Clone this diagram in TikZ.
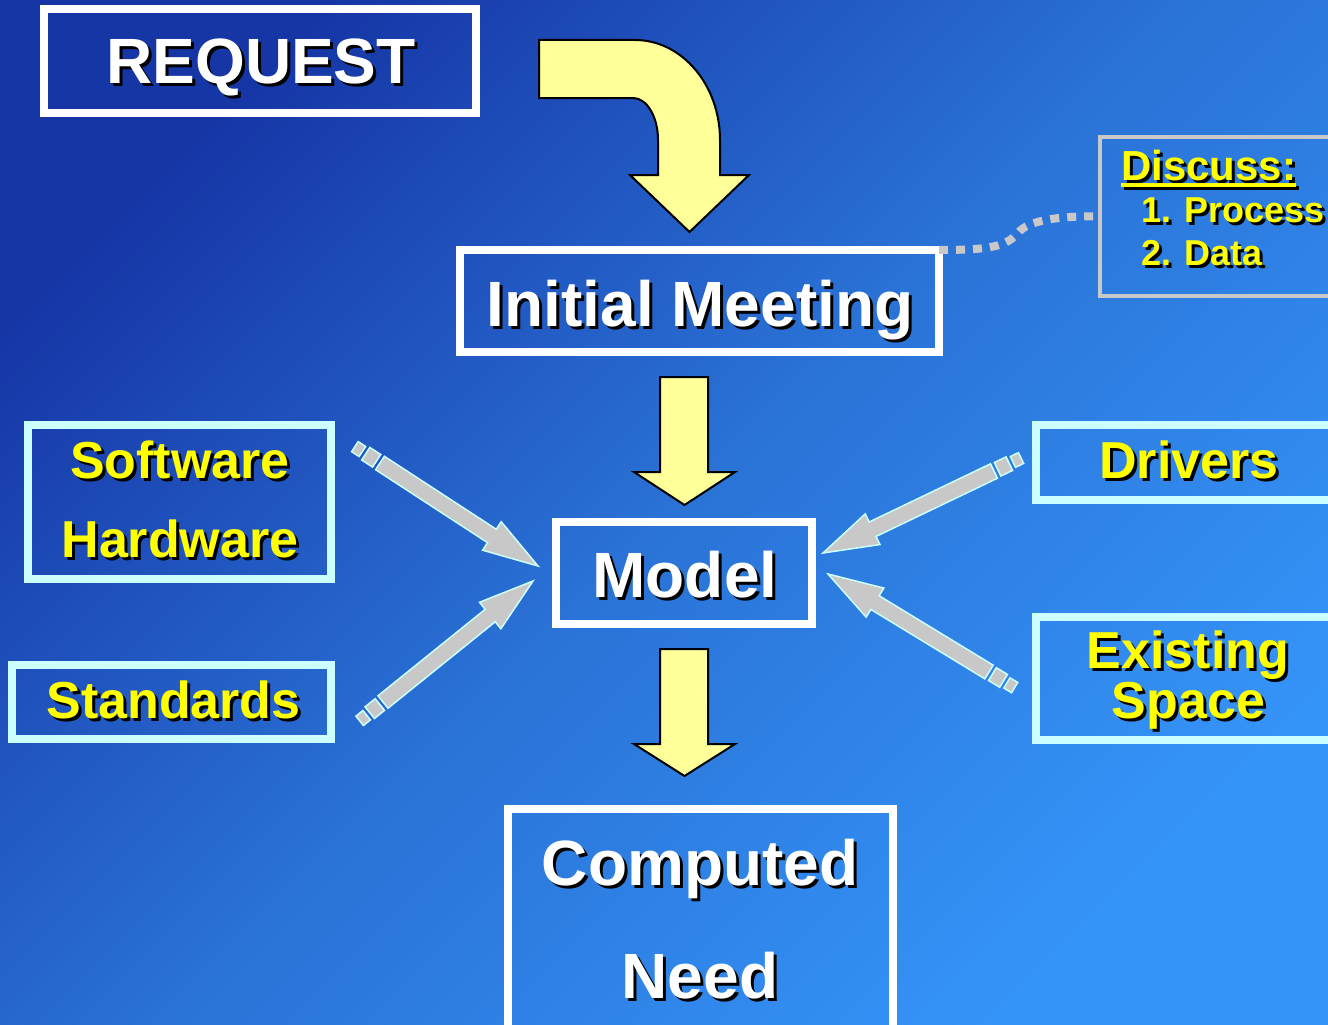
\documentclass[tikz,border=0pt]{standalone}
\usepackage{fontspec}
\setmainfont{Liberation Sans}
\usetikzlibrary{calc}
\definecolor{bgdark}{HTML}{1636A6}
\definecolor{bgmid}{HTML}{2A72D6}
\definecolor{bglight}{HTML}{3594F8}
\definecolor{arrowyellow}{HTML}{FFFF99}
\definecolor{txtyellow}{HTML}{FFFF00}
\definecolor{boxcyan}{HTML}{CCFFFF}
\definecolor{arrowgray}{HTML}{C8C8C8}
\definecolor{discgray}{HTML}{C8C8C8}
\newcommand\shtxt[2]{\leavevmode\rlap{\kern3pt\raisebox{-3pt}{\color{black}#2}}{\color{#1}#2}}
\newcommand\ulbar[1]{\vtop{\hbox{#1}\kern3pt\hrule height 4pt}}
\newcommand\grayarrow[2]{%
  \coordinate (ga-b) at ($(#2)!55pt!(#1)$);
  \coordinate (ga-p1) at ($(#1)!-4pt!(#2)$);
  \coordinate (ga-p2) at ($(#1)!-17pt!(#2)$);
  \coordinate (ga-p3) at ($(#1)!-21pt!(#2)$);
  \coordinate (ga-p4) at ($(#1)!-30pt!(#2)$);
  \filldraw[grayarr] ($(#1)!8pt!90:(#2)$) -- ($(ga-b)!8pt!90:(#2)$) -- ($(ga-b)!17pt!90:(#2)$)
    -- (#2) -- ($(ga-b)!17pt!-90:(#2)$) -- ($(ga-b)!8pt!-90:(#2)$) -- ($(#1)!8pt!-90:(#2)$) -- cycle;
  \filldraw[grayarr] ($(ga-p1)!7.5pt!90:(#2)$) -- ($(ga-p2)!7.5pt!90:(#2)$) -- ($(ga-p2)!7.5pt!-90:(#2)$) -- ($(ga-p1)!7.5pt!-90:(#2)$) -- cycle;
  \filldraw[grayarr] ($(ga-p3)!6pt!90:(#2)$) -- ($(ga-p4)!6pt!90:(#2)$) -- ($(ga-p4)!6pt!-90:(#2)$) -- ($(ga-p3)!6pt!-90:(#2)$) -- cycle;
}
\begin{document}
\begin{tikzpicture}[x=1pt,y=-1pt,
  wbox/.style={draw=white,line width=8pt,inner sep=0pt,outer sep=0pt},
  cbox/.style={draw=boxcyan,line width=8pt,inner sep=0pt,outer sep=0pt},
  gbox/.style={draw=discgray,line width=4pt,inner sep=0pt,outer sep=0pt},
  wtxt/.style={inner sep=0pt,anchor=base,font=\fontsize{64}{64}\selectfont\bfseries},
  ytxt/.style={inner sep=0pt,anchor=base,font=\fontsize{52}{52}\selectfont\bfseries},
  dtxt/.style={inner sep=0pt,anchor=base west,font=\fontsize{42}{42}\selectfont\bfseries},
  itxt/.style={inner sep=0pt,anchor=base west,font=\fontsize{36}{36}\selectfont\bfseries},
  yarrow/.style={fill=arrowyellow,draw=black,line width=2pt,line join=miter},
  grayarr/.style={fill=arrowgray,draw=boxcyan,line width=1.5pt,line join=miter},
  dotconn/.style={draw=discgray,line width=8pt,dash pattern=on 9pt off 8pt}]
\useasboundingbox (0,0) rectangle (1328,1025);
\clip (0,0) rectangle (1328,1025);
\shade[top color=bgdark,bottom color=bglight,middle color=bgmid,shading angle=45] (-10,-10) rectangle (1338,1035);

% boxes
\node[wbox,minimum width=432pt,minimum height=104pt] (req) at (260,61) {};
\node[wbox,minimum width=479pt,minimum height=102pt] (im) at (699.5,301) {};
\node[wbox,minimum width=256pt,minimum height=102pt] (model) at (684,573) {};
\node[wbox,minimum width=385pt,minimum height=251pt] (cn) at (700.5,934.5) {};
\node[cbox,minimum width=303pt,minimum height=154pt] (sh) at (179.5,502) {};
\node[cbox,minimum width=319pt,minimum height=74pt] (std) at (171.5,702) {};
\node[cbox,minimum width=324pt,minimum height=75pt] (drv) at (1198,462.5) {};
\node[cbox,minimum width=324pt,minimum height=123pt] (es) at (1198,678.5) {};
\node[gbox,minimum width=260pt,minimum height=158.5pt] (disc) at (1230,216.25) {};

% dotted connector
\draw[dotconn] (im.north east) .. controls (992,250) and (1006,246) .. (1018,233)
  .. controls (1028,220) and (1060,216) .. (disc.west);

% yellow block arrows
\filldraw[yarrow] (539,40) -- (635,40) .. controls (682,40) and (720,85) .. (720,140)
  -- (720,175) -- (749,175) -- (689.5,232) -- (630,175) -- (658,175) -- (658,140)
  .. controls (658,117) and (647,98) .. (633,98) -- (539,98) -- cycle;
\filldraw[yarrow] (660,377) -- (708,377) -- (708,472) -- (735,472) -- (684.5,505)
  -- (634,472) -- (660,472) -- cycle;
\filldraw[yarrow] (660,649) -- (708,649) -- (708,744) -- (735,744) -- (684.5,776)
  -- (634,744) -- (660,744) -- cycle;

% gray arrows
\coordinate (sh-s) at (380,463);  \coordinate (sh-t) at (538,566);
\coordinate (std-s) at (383,702); \coordinate (std-t) at (533,581);
\coordinate (drv-s) at (994,471); \coordinate (drv-t) at (823,553);
\coordinate (es-s) at (989,672);  \coordinate (es-t) at (828,574);
\grayarrow{sh-s}{sh-t}
\grayarrow{std-s}{std-t}
\grayarrow{drv-s}{drv-t}
\grayarrow{es-s}{es-t}

% texts
\node[wtxt] (reqt) at (261,84) {\shtxt{white}{REQUEST}};
\node[wtxt] (imt) at (700,326) {\shtxt{white}{Initial Meeting}};
\node[wtxt] (modelt) at (685,597) {\shtxt{white}{Model}};
\node[wtxt] (cnt1) at (700,885) {\shtxt{white}{Computed}};
\node[wtxt] (cnt2) at (700,998) {\shtxt{white}{Need}};
\node[ytxt] (sht1) at (180,478) {\shtxt{txtyellow}{Software}};
\node[ytxt] (sht2) at (180,557) {\shtxt{txtyellow}{Hardware}};
\node[ytxt] (stdt) at (173.5,718) {\shtxt{txtyellow}{Standards}};
\node[ytxt] (drvt) at (1189,478) {\shtxt{txtyellow}{Drivers}};
\node[ytxt] (est1) at (1188,668) {\shtxt{txtyellow}{Existing}};
\node[ytxt] (est2) at (1188.5,718) {\shtxt{txtyellow}{Space}};
\node[dtxt] (disct) at (1121,180) {\shtxt{txtyellow}{\ulbar{Discuss:}}};
\node[itxt] (disc1) at (1141,222) {\shtxt{txtyellow}{1. Process}};
\node[itxt] (disc2) at (1141,265) {\shtxt{txtyellow}{2. Data}};
\end{tikzpicture}
\end{document}
